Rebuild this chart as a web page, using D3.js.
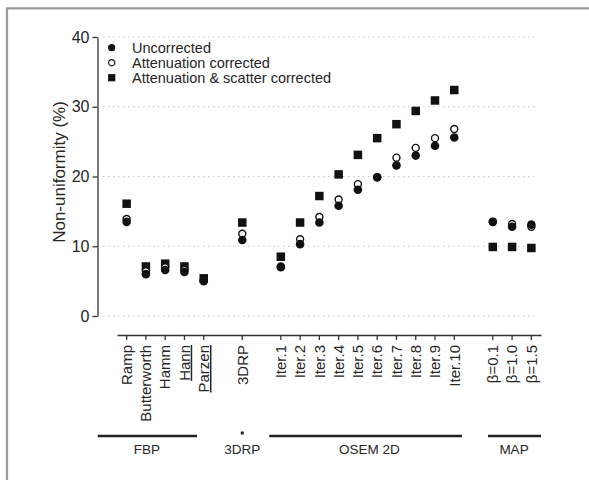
<!DOCTYPE html>
<html>
<head>
<meta charset="utf-8">
<script src="https://cdn.jsdelivr.net/npm/d3@7"></script>
<style>
  body { margin: 0; background: #fff; }
  svg text { font-family: "Liberation Sans", Arial, sans-serif; fill: #262626; }
</style>
</head>
<body>
<svg id="chart" width="589" height="480"></svg>
<script>
// Reconstruction methods along the x axis
const categories = ["Ramp", "Butterworth", "Hamm", "Hann", "Parzen", "3DRP",
  "Iter.1", "Iter.2", "Iter.3", "Iter.4", "Iter.5", "Iter.6", "Iter.7", "Iter.8", "Iter.9", "Iter.10",
  "β=0.1", "β=1.0", "β=1.5"];
// An empty slot is left before each of these
const gapsBefore = ["3DRP", "Iter.1", "β=0.1"];

// Non-uniformity (%) per method
const uncorrected = [13.5, 6.0, 6.6, 6.3, 5.0, 10.9, 7.0, 10.3, 13.4, 15.8, 18.1, 19.9, 21.6, 23.0, 24.4, 25.6, 13.5, 12.8, 13.1];
const attenuationCorrected = [13.9, 6.4, 7.0, 6.6, 5.2, 11.8, 7.1, 11.0, 14.2, 16.7, 18.9, 19.9, 22.7, 24.1, 25.5, 26.8, 13.5, 13.2, 12.8];
const scatterCorrected = [16.1, 7.1, 7.5, 7.1, 5.4, 13.4, 8.5, 13.4, 17.2, 20.3, 23.1, 25.5, 27.5, 29.4, 30.9, 32.4, 9.9, 9.9, 9.75];

const yTicks = [0, 10, 20, 30, 40];

// Algorithm groups, spans given in slot units
const groupNames = ["FBP", "3DRP", "OSEM 2D", "MAP"];
const groupSpans = [[-1.5, 3.65], [6, 6], [7.4, 17.4], [18.75, 21.5]];
const groupLabelAt = [1.05, 6.0, 12.6, 20.1];

const legendLabels = ["Uncorrected", "Attenuation corrected", "Attenuation & scatter corrected"];

const svg = d3.select("#chart");
svg.append("rect").attr("width", 589).attr("height", 480).attr("fill", "#fff");

// frame
svg.append("path").attr("d", "M7,480V8.3H589")
  .attr("fill", "none").attr("stroke", "#9a9a9a").attr("stroke-width", 2.2);

const slots = [];
categories.forEach(c => { if (gapsBefore.includes(c)) slots.push("gap:" + c); slots.push(c); });

const x = d3.scaleBand().domain(slots).range([117, 541]);
const slotX = i => x.range()[0] + x.step() * (i + 0.5);
const y = d3.scaleLinear().domain([0, 40]).range([316, 37]);

// dotted grid
svg.append("g").selectAll("line").data(yTicks).join("line")
  .attr("x1", 103).attr("x2", 538)
  .attr("y1", d => y(d)).attr("y2", d => y(d))
  .attr("stroke", "#c4c4c4").attr("stroke-width", 1.2)
  .attr("stroke-dasharray", "1.4 3.6");

// y axis
const yAxis = svg.append("g").attr("transform", "translate(97.5,0)")
  .call(d3.axisLeft(y).tickValues(yTicks).tickSize(5).tickSizeOuter(0).tickPadding(3));
yAxis.selectAll("path,line").attr("stroke", "#333").attr("stroke-width", 1.3);
yAxis.selectAll("text").style("font-size", "16px").style("font-family", null);

svg.append("text")
  .attr("transform", "translate(59,172) rotate(-90)")
  .attr("text-anchor", "middle").attr("dominant-baseline", "central")
  .style("font-size", "17px")
  .text("Non-uniformity (%)");

// x axis
const xAxis = svg.append("g").attr("transform", "translate(0,335)")
  .call(d3.axisBottom(x).tickValues(categories).tickSize(5).tickSizeOuter(0));
xAxis.selectAll("path,line").attr("stroke", "#333").attr("stroke-width", 1.3);
xAxis.selectAll("text")
  .attr("x", -10).attr("y", 0).attr("dy", "0.35em")
  .attr("transform", "rotate(-90)")
  .style("text-anchor", "end").style("font-size", "15px").style("font-family", null);
xAxis.selectAll(".tick text").filter(d => d === "Hann")
  .style("text-decoration", "underline");
xAxis.selectAll(".tick text").filter(d => d === "Parzen")
  .style("text-decoration", "underline dotted #888");

// group brackets
const groups = svg.append("g");
groupSpans.forEach(([a, b], i) => {
  if (a === b) {
    groups.append("rect").attr("x", slotX(a) - 1.5).attr("y", 431.5)
      .attr("width", 3).attr("height", 3).attr("fill", "#222");
  } else {
    groups.append("line").attr("x1", slotX(a)).attr("x2", slotX(b))
      .attr("y1", 436).attr("y2", 436).attr("stroke", "#222").attr("stroke-width", 2.4);
  }
  groups.append("text").attr("x", slotX(groupLabelAt[i])).attr("y", 453.5)
    .attr("text-anchor", "middle").style("font-size", "13.5px")
    .text(groupNames[i]);
});

// markers
const cx = i => x(categories[i]) + x.bandwidth() / 2;
const s = 8.5;
svg.append("g").selectAll("rect").data(scatterCorrected).join("rect")
  .attr("x", (d, i) => cx(i) - s / 2).attr("y", d => y(d) - s / 2)
  .attr("width", s).attr("height", s).attr("fill", "#111");
svg.append("g").selectAll("circle").data(attenuationCorrected).join("circle")
  .attr("cx", (d, i) => cx(i)).attr("cy", d => y(d)).attr("r", 3.5)
  .attr("fill", "#fff").attr("stroke", "#111").attr("stroke-width", 1.4);
svg.append("g").selectAll("circle").data(uncorrected).join("circle")
  .attr("cx", (d, i) => cx(i)).attr("cy", d => y(d)).attr("r", 4.3)
  .attr("fill", "#111");

// legend
const legend = svg.append("g").attr("transform", "translate(111.7,47.7)");
legendLabels.forEach((label, i) => {
  const g = legend.append("g").attr("transform", `translate(0,${i * 15})`);
  if (i === 0) g.append("circle").attr("r", 3.6).attr("fill", "#111");
  if (i === 1) g.append("circle").attr("r", 3.1).attr("fill", "#fff").attr("stroke", "#111").attr("stroke-width", 1.2);
  if (i === 2) g.append("rect").attr("x", -3.6).attr("y", -3.6).attr("width", 7.2).attr("height", 7.2).attr("fill", "#111");
  g.append("text").attr("x", 20.3).attr("y", 5).style("font-size", "14.5px").text(label);
});
</script>
</body>
</html>
